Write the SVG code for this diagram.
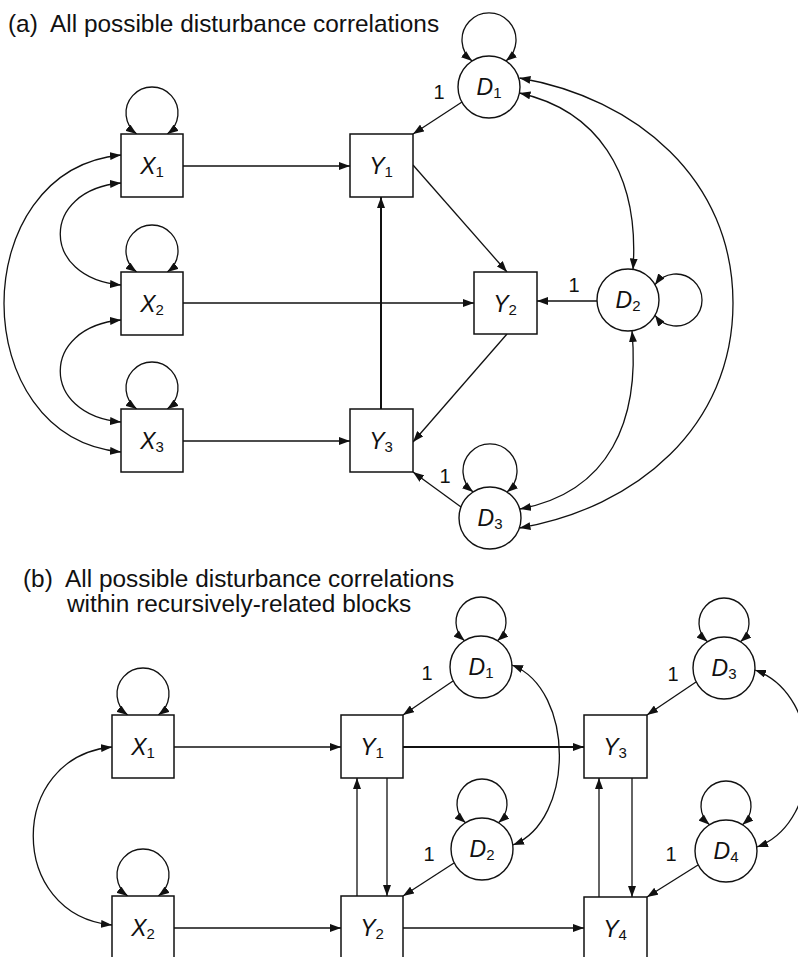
<svg xmlns="http://www.w3.org/2000/svg" width="798" height="957" viewBox="0 0 798 957">
<defs>
<marker id="ah" viewBox="0 0 11 8" refX="11" refY="4" markerWidth="11" markerHeight="8" markerUnits="userSpaceOnUse" orient="auto-start-reverse"><path d="M0,0 L11,4 L0,8 z" fill="#111"/></marker>
</defs>
<style>
.bg{fill:#fff}
.box{fill:#fff;stroke:#111;stroke-width:1.5}
.c{fill:#fff;stroke:#111;stroke-width:1.4}
.e{fill:none;stroke:#111;stroke-width:1.3;marker-end:url(#ah)}
.e.thick{stroke-width:2}
.d{fill:none;stroke:#111;stroke-width:1.3;marker-start:url(#ah);marker-end:url(#ah)}
text{font-family:"Liberation Sans",Arial,sans-serif;fill:#111}
.title{font-size:24.4px;white-space:pre}
.lab{font-size:23px;text-anchor:middle}
.lab .v{font-style:italic}
.lab .s{font-size:15px}
.one{font-size:20px;text-anchor:middle}
</style>
<rect class="bg" x="0" y="0" width="798" height="957"/>

<text class="title" x="8" y="32" xml:space="preserve">(a)  All possible disturbance correlations</text>
<text class="title" x="23" y="587" xml:space="preserve">(b)  All possible disturbance correlations</text>
<text class="title" x="67" y="612">within recursively-related blocks</text>

<g id="connectors">
<!-- panel a -->
<path class="e" d="M183,166 H350"/>
<path class="e" d="M183,303 H474"/>
<path class="e" d="M183,441 H350"/>
<path class="e thick" d="M381,409 V197"/>
<path class="e" d="M413,165 L507,272"/>
<path class="e" d="M507,334 L413,442"/>
<path class="e" d="M462,102 L413,134"/>
<path class="e" d="M597,301 H537"/>
<path class="e" d="M461,507 L413,472"/>
<path class="d" d="M121,155 C-35,170 -35,437 121,452"/>
<path class="d" d="M121,183 C40,190 40,278 121,285"/>
<path class="d" d="M121,320 C40,327 40,415 121,422"/>
<path class="d" d="M519.5,78 C636,98 733,179 733,303 C733,427 636,508 519.5,528"/>
<path class="d" d="M519.5,93 C595,110 640,170 633,269.5"/>
<path class="d" d="M632,331 C640,420 610,492 520,509"/>
<path class="d" d="M136.7,134 A26,26 0 1 1 167.3,134"/>
<path class="d" d="M136.7,272 A26,26 0 1 1 167.3,272"/>
<path class="d" d="M136.7,409 A26,26 0 1 1 167.3,409"/>
<path class="d" d="M472.1,61 A27,27 0 1 1 505.9,61"/>
<path class="d" d="M655,284.7 A26,26 0 1 1 655,315.3"/>
<path class="d" d="M473.1,492 A27,27 0 1 1 506.9,492"/>
<text class="one" x="439" y="99">1</text>
<text class="one" x="574" y="292">1</text>
<text class="one" x="445" y="483">1</text>
<!-- panel b -->
<path class="e" d="M174,747 H341"/>
<path class="e" d="M174,928 H341"/>
<path class="e thick" d="M403,747 H584"/>
<path class="e" d="M403,928 H584"/>
<path class="e" d="M357,896 V778"/>
<path class="e" d="M387,778 V896"/>
<path class="e" d="M599,897 V778"/>
<path class="e" d="M632,778 V897"/>
<path class="e" d="M453,681 L403,715"/>
<path class="e" d="M454,863 L403,896"/>
<path class="e" d="M696,682 L647,715"/>
<path class="e" d="M698,865 L647,897"/>
<path class="d" d="M112,747 C7,757 7,915 112,925"/>
<path class="d" d="M512,665 C575,690 575,820 513,845"/>
<path class="d" d="M755,670 C825,695 825,822 757,847"/>
<path class="d" d="M127.7,715 A26,26 0 1 1 158.3,715"/>
<path class="d" d="M127.7,896 A26,26 0 1 1 158.3,896"/>
<path class="d" d="M464.5,640.8 A25,25 0 1 1 497.5,640.8"/>
<path class="d" d="M465.5,822.8 A25,25 0 1 1 498.5,822.8"/>
<path class="d" d="M707.5,641.8 A25,25 0 1 1 740.5,641.8"/>
<path class="d" d="M709.5,824.8 A25,25 0 1 1 742.5,824.8"/>
<text class="one" x="427" y="680">1</text>
<text class="one" x="429" y="861">1</text>
<text class="one" x="673" y="681">1</text>
<text class="one" x="671" y="861">1</text>
</g>

<!-- panel a nodes -->
<g id="a-X1"><rect class="box" x="121" y="134" width="62" height="63"/><text class="lab" x="152" y="174"><tspan class="v">X</tspan><tspan class="s" dy="3">1</tspan></text></g>
<g id="a-X2"><rect class="box" x="121" y="272" width="62" height="63"/><text class="lab" x="152" y="312"><tspan class="v">X</tspan><tspan class="s" dy="3">2</tspan></text></g>
<g id="a-X3"><rect class="box" x="121" y="409" width="62" height="63"/><text class="lab" x="152" y="449"><tspan class="v">X</tspan><tspan class="s" dy="3">3</tspan></text></g>
<g id="a-Y1"><rect class="box" x="350" y="134" width="63" height="63"/><text class="lab" x="381" y="174"><tspan class="v">Y</tspan><tspan class="s" dy="3">1</tspan></text></g>
<g id="a-Y2"><rect class="box" x="474" y="272" width="63" height="62"/><text class="lab" x="505" y="312"><tspan class="v">Y</tspan><tspan class="s" dy="3">2</tspan></text></g>
<g id="a-Y3"><rect class="box" x="350" y="409" width="63" height="63"/><text class="lab" x="381" y="449"><tspan class="v">Y</tspan><tspan class="s" dy="3">3</tspan></text></g>
<g id="a-D1"><circle class="c" cx="489" cy="87" r="31"/><text class="lab" x="489" y="95"><tspan class="v">D</tspan><tspan class="s" dy="3">1</tspan></text></g>
<g id="a-D2"><circle class="c" cx="628" cy="300" r="31"/><text class="lab" x="628" y="308"><tspan class="v">D</tspan><tspan class="s" dy="3">2</tspan></text></g>
<g id="a-D3"><circle class="c" cx="490" cy="518" r="31"/><text class="lab" x="490" y="526"><tspan class="v">D</tspan><tspan class="s" dy="3">3</tspan></text></g>

<!-- panel b nodes -->
<g id="b-X1"><rect class="box" x="112" y="715" width="62" height="63"/><text class="lab" x="143" y="755"><tspan class="v">X</tspan><tspan class="s" dy="3">1</tspan></text></g>
<g id="b-X2"><rect class="box" x="112" y="896" width="62" height="63"/><text class="lab" x="143" y="936"><tspan class="v">X</tspan><tspan class="s" dy="3">2</tspan></text></g>
<g id="b-Y1"><rect class="box" x="341" y="715" width="62" height="63"/><text class="lab" x="372" y="755"><tspan class="v">Y</tspan><tspan class="s" dy="3">1</tspan></text></g>
<g id="b-Y2"><rect class="box" x="341" y="896" width="62" height="63"/><text class="lab" x="372" y="936"><tspan class="v">Y</tspan><tspan class="s" dy="3">2</tspan></text></g>
<g id="b-Y3"><rect class="box" x="584" y="715" width="63" height="63"/><text class="lab" x="615" y="755"><tspan class="v">Y</tspan><tspan class="s" dy="3">3</tspan></text></g>
<g id="b-Y4"><rect class="box" x="584" y="897" width="63" height="63"/><text class="lab" x="615" y="937"><tspan class="v">Y</tspan><tspan class="s" dy="3">4</tspan></text></g>
<g id="b-D1"><circle class="c" cx="481" cy="667" r="31"/><text class="lab" x="481" y="675"><tspan class="v">D</tspan><tspan class="s" dy="3">1</tspan></text></g>
<g id="b-D2"><circle class="c" cx="482" cy="849" r="31"/><text class="lab" x="482" y="857"><tspan class="v">D</tspan><tspan class="s" dy="3">2</tspan></text></g>
<g id="b-D3"><circle class="c" cx="724" cy="668" r="31"/><text class="lab" x="724" y="676"><tspan class="v">D</tspan><tspan class="s" dy="3">3</tspan></text></g>
<g id="b-D4"><circle class="c" cx="726" cy="851" r="31"/><text class="lab" x="726" y="859"><tspan class="v">D</tspan><tspan class="s" dy="3">4</tspan></text></g>
</svg>
